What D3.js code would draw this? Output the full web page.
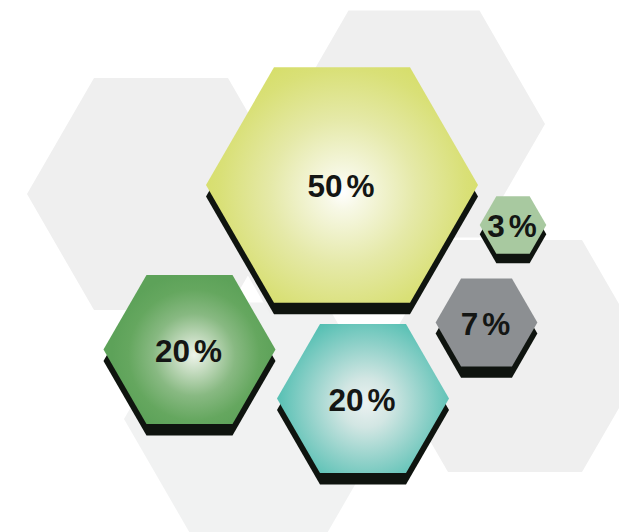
<!DOCTYPE html>
<html>
<head>
<meta charset="utf-8">
<script src="https://cdn.jsdelivr.net/npm/d3@7"></script>
<style>
  html, body { margin: 0; padding: 0; background: #fff; }
  svg { display: block; }
  .label {
    font-family: "Liberation Sans", Arial, sans-serif;
    font-weight: bold;
    font-size: 31.5px;
    fill: #141614;
  }
</style>
</head>
<body>
<div id="chart"></div>
<script>
// Define SVG area dimensions
var svgWidth = 619;
var svgHeight = 532;

// Chart data: one hexagon per share
var categories = ["A", "B", "C", "D", "E"];
var values = [50, 20, 20, 7, 3];
var unit = "%";

// Page layout: where each hexagon sits (not data)
var layoutX = [342, 189.5, 363, 486.5, 513];
var layoutY = [185, 349.5, 398.5, 322.5, 225];

// decorative grey hexagons in the background [cx, cy, r, colour]
var backdrop = [
  [161, 194, 134, "#efefef"],
  [414, 124, 131, "#efefef"],
  [515, 356, 134, "#efefef"],
  [258.5, 419, 134.5, "#f1f2f2"],
  [338, 196, 136, "#efefef"]
];

// fills: radial gradients for the three big ones, flat for the small ones
var fillStops = [
  [["0", "#ffffff"], ["0.12", "#f7f8e6"], ["0.5", "#e5e9a8"], ["0.85", "#d9e077"], ["1", "#d6de69"]],
  [["0", "#eef4ea"], ["0.2", "#c6dcc1"], ["0.5", "#88b982"], ["0.8", "#65a75f"], ["1", "#5da259"]],
  [["0", "#ebf1f1"], ["0.25", "#d2e6e3"], ["0.6", "#90d1c9"], ["1", "#45bbad"]],
  "#8c8f92",
  "#a8c9a0"
];
var gradientCentre = [[343, 192, 145], [194, 355, 82], [366, 403, 98]];

var svg = d3.select("#chart").append("svg")
    .attr("width", svgWidth)
    .attr("height", svgHeight);

// hexagon area is proportional to the value
var rScale = d3.scaleSqrt()
    .domain([0, 50])
    .range([0, 136]);

var hexLine = d3.line();

function hexPath(cx, cy, r) {
  var pts = d3.range(6).map(function(i) {
    var a = Math.PI / 3 * i;
    return [cx + r * Math.cos(a), cy + r * Math.sin(a)];
  });
  return hexLine(pts) + "Z";
}

var defs = svg.append("defs");
gradientCentre.forEach(function(g, i) {
  var grad = defs.append("radialGradient")
      .attr("id", "grad" + i)
      .attr("gradientUnits", "userSpaceOnUse")
      .attr("cx", g[0])
      .attr("cy", g[1])
      .attr("r", g[2]);
  fillStops[i].forEach(function(s) {
    grad.append("stop").attr("offset", s[0]).attr("stop-color", s[1]);
  });
});

// background
svg.append("g").selectAll("path")
  .data(backdrop)
  .enter()
  .append("path")
    .attr("d", function(d) { return hexPath(d[0], d[1], d[2]); })
    .attr("fill", function(d) { return d[3]; });

var data = categories.map(function(c, i) {
  return { key: c, value: values[i], x: layoutX[i], y: layoutY[i], i: i };
});

var hexGroup = svg.selectAll(".hex")
  .data(data)
  .enter()
  .append("g")
    .attr("class", "hex");

// dark drop shadow, shifted down
hexGroup.append("path")
    .attr("d", function(d) {
      var r = rScale(d.value);
      return hexPath(d.x, d.y + Math.min(11.5, 6 + r * 0.1), r);
    })
    .attr("fill", "#0f140f");

hexGroup.append("path")
    .attr("d", function(d) { return hexPath(d.x, d.y, rScale(d.value)); })
    .attr("fill", function(d) {
      return typeof fillStops[d.i] === "string" ? fillStops[d.i] : "url(#grad" + d.i + ")";
    });

var label = hexGroup.append("text")
    .attr("class", "label")
    .attr("text-anchor", "middle")
    .attr("x", function(d) { return d.x - 1; })
    .attr("y", function(d) { return d.y + 12; })
    .text(function(d) { return d.value; });

label.append("tspan")
    .attr("dx", 4)
    .text(unit);
</script>
</body>
</html>
